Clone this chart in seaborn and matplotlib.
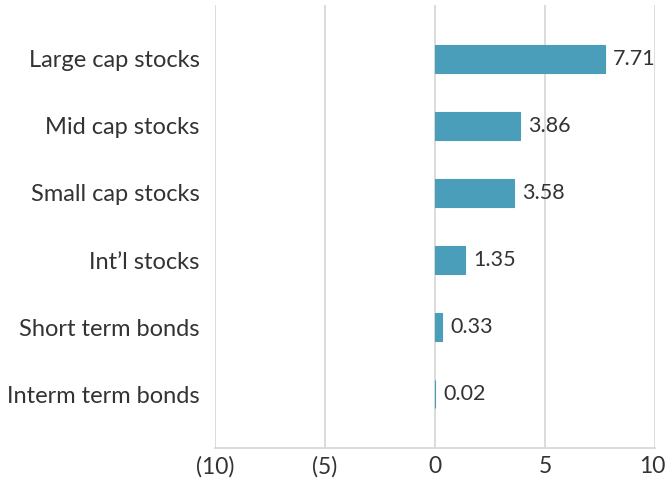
import numpy as np
import pandas as pd
import seaborn as sns
import matplotlib.pyplot as plt
from matplotlib.transforms import ScaledTranslation

# Данные
categories = ['Large cap stocks', 'Mid cap stocks', 'Small cap stocks',
              "Int\u2019l stocks", 'Short term bonds', 'Interm term bonds']
values = [7.71, 3.86, 3.58, 1.35, 0.33, 0.02]
tick_vals = [-10, -5, 0, 5, 10]
tick_labels = ['(10)', '(5)', '0', '5', '10']

df = pd.DataFrame({'category': categories, 'value': values})

sns.set_style('white')
plt.rcParams['font.family'] = ['Lato', 'DejaVu Sans']

BAR = '#4a9eb9'
TXT = '#333333'
GRID = '#d9d9d9'
FS = 17

f, a = plt.subplots(figsize=(6.65, 4.82), dpi=100)
f.subplots_adjust(left=215/665, right=655/665, top=1-5/482, bottom=1-448/482)

sns.barplot(data=df, x='value', y='category', color=BAR, width=0.42,
            saturation=1, ax=a, orient='h', edgecolor=BAR, linewidth=0.8)

a.set_xlim(-10, 10)
a.set_ylim(5.8, -0.8)
a.set_xticks(tick_vals)
a.set_xticklabels(tick_labels)
a.set_xlabel('')
a.set_ylabel('')

a.set_axisbelow(True)
a.xaxis.grid(True, color=GRID, linewidth=1.3)
a.yaxis.grid(False)

for s in ['top', 'right', 'left']:
    a.spines[s].set_visible(False)
a.spines['bottom'].set_color(GRID)
a.spines['bottom'].set_linewidth(1.3)

a.tick_params(axis='y', length=0, labelsize=FS, labelcolor=TXT, pad=11)
a.tick_params(axis='x', length=0, labelsize=16.5, labelcolor=TXT, pad=6)

# Последнюю подпись чуть сдвигаем влево, чтобы не обрезалась
lbl = a.get_xticklabels()[-1]
lbl.set_transform(lbl.get_transform() + ScaledTranslation(-3/100, 0, f.dpi_scale_trans))

# Подписи значений
a.bar_label(a.containers[0], labels=[f'{v:.2f}' for v in values],
            padding=6, fontsize=15.5, color=TXT)

plt.savefig('out.png', dpi=100)
